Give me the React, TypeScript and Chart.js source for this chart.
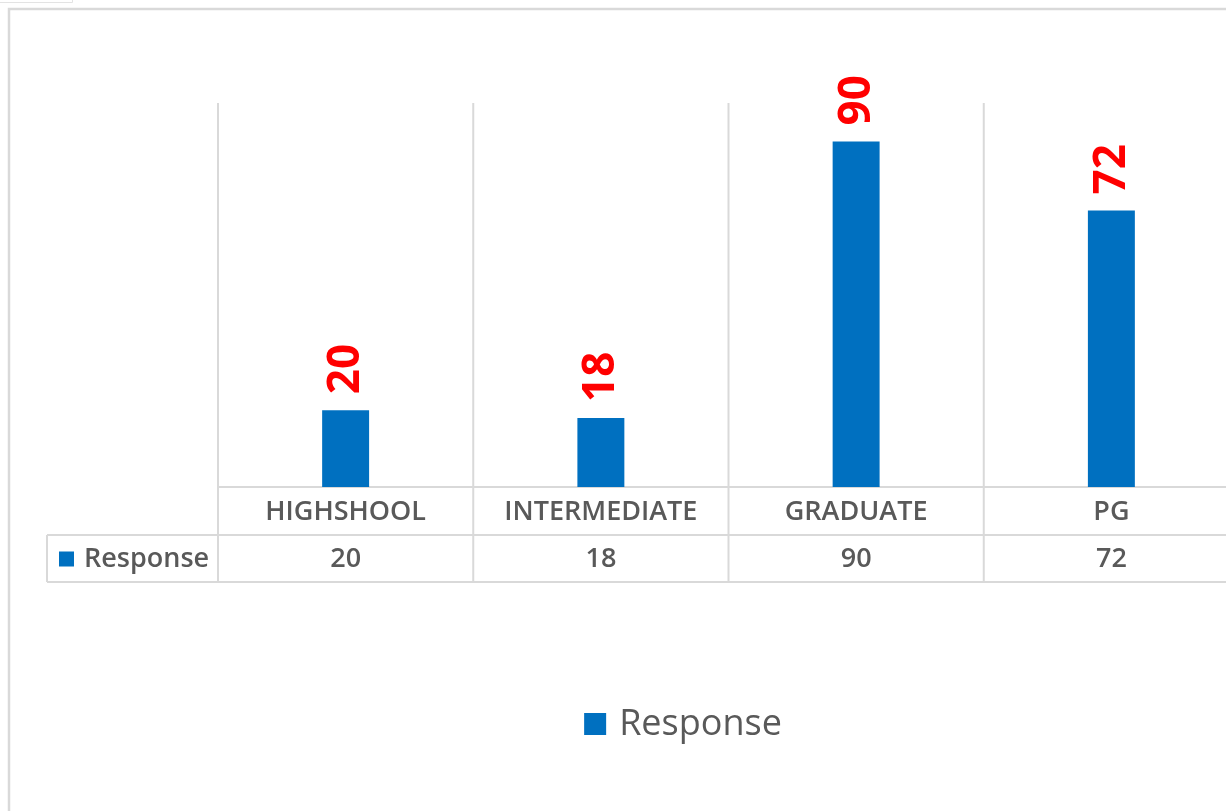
import { useEffect, useRef } from 'react';
import { Chart, registerables } from 'chart.js';

Chart.register(...registerables);

const categories = ['HIGHSHOOL', 'INTERMEDIATE', 'GRADUATE', 'PG'];
const responseValues = [20, 18, 90, 72];
const seriesName = 'Response';
const yMin = 0;
const yMax = 100;

const BLUE = '#0070C0';
const RED = '#FF0000';
const GRID = '#D9D9D9';
const TEXT = '#595959';
const FONT = '"Open Sans", "Noto Sans", sans-serif';

const tablePlugin = {
  id: 'excelTable',
  beforeDraw(chart: any) {
    const ctx = chart.ctx as CanvasRenderingContext2D;
    ctx.save();
    ctx.fillStyle = '#ffffff';
    ctx.fillRect(0, 0, chart.width, chart.height);
    // outer chart border
    ctx.strokeStyle = GRID;
    ctx.lineWidth = 2.5;
    ctx.strokeRect(9, 9, chart.width + 50, chart.height + 50);
    // small artifact at top-left
    ctx.strokeStyle = '#E3E3E3';
    ctx.lineWidth = 1;
    ctx.beginPath();
    ctx.moveTo(0, 2.5);
    ctx.lineTo(72.5, 2.5);
    ctx.lineTo(72.5, 0);
    ctx.stroke();
    ctx.restore();
  },
  beforeDatasetsDraw(chart: any) {
    const ctx = chart.ctx as CanvasRenderingContext2D;
    const area = chart.chartArea;
    const x = chart.scales.x;
    const n = categories.length;
    const headerBottom = area.bottom + 48;
    const tableBottom = area.bottom + 95;
    const rowLeft = 47;
    ctx.save();
    ctx.strokeStyle = GRID;
    ctx.lineWidth = 2;
    const bounds: number[] = [area.left];
    for (let i = 0; i < n - 1; i++) {
      bounds.push((x.getPixelForValue(i) + x.getPixelForValue(i + 1)) / 2);
    }
    bounds.push(area.right);
    ctx.beginPath();
    bounds.forEach((bx) => {
      ctx.moveTo(bx, area.top);
      ctx.lineTo(bx, tableBottom);
    });
    // horizontal lines
    ctx.moveTo(area.left, area.bottom);
    ctx.lineTo(area.right, area.bottom);
    ctx.moveTo(rowLeft, headerBottom);
    ctx.lineTo(area.right, headerBottom);
    ctx.moveTo(rowLeft, tableBottom);
    ctx.lineTo(area.right, tableBottom);
    ctx.moveTo(rowLeft, headerBottom);
    ctx.lineTo(rowLeft, tableBottom);
    ctx.stroke();
    ctx.restore();
  },
  afterDatasetsDraw(chart: any) {
    const ctx = chart.ctx as CanvasRenderingContext2D;
    const area = chart.chartArea;
    const x = chart.scales.x;
    const ds = chart.data.datasets[0];
    const meta = chart.getDatasetMeta(0);
    const headerBottom = area.bottom + 48;
    const tableBottom = area.bottom + 95;
    ctx.save();
    // data labels, rotated
    ctx.fillStyle = RED;
    ctx.font = `bold 44px ${FONT}`;
    ctx.textAlign = 'left';
    ctx.textBaseline = 'middle';
    meta.data.forEach((bar: any, i: number) => {
      ctx.save();
      ctx.translate(bar.x + 1, bar.y - 16);
      ctx.rotate(-Math.PI / 2);
      ctx.fillText(String(ds.data[i]), 0, 0);
      ctx.restore();
    });
    // table text
    ctx.fillStyle = TEXT;
    ctx.font = `600 27px ${FONT}`;
    ctx.textAlign = 'center';
    ctx.textBaseline = 'middle';
    categories.forEach((c, i) => {
      const cx = x.getPixelForValue(i);
      ctx.fillText(c, cx, (area.bottom + headerBottom) / 2 + 1);
      ctx.fillText(String(ds.data[i]), cx, (headerBottom + tableBottom) / 2 + 1);
    });
    // row header
    const rowMid = (headerBottom + tableBottom) / 2;
    ctx.fillStyle = ds.backgroundColor;
    ctx.fillRect(59, rowMid - 7, 15, 15);
    ctx.fillStyle = TEXT;
    ctx.textAlign = 'left';
    ctx.fillText(ds.label, 84, rowMid + 1);
    // legend
    ctx.font = `36px ${FONT}`;
    const tw = ctx.measureText(ds.label).width;
    const box = 22;
    const gap = 13;
    const total = box + gap + tw;
    const lx = chart.width / 2 - total / 2;
    const ly = 724;
    ctx.fillStyle = ds.backgroundColor;
    ctx.fillRect(lx, ly - box / 2, box, box);
    ctx.fillStyle = TEXT;
    ctx.textBaseline = 'middle';
    ctx.fillText(ds.label, lx + box + gap, ly + 1);
    ctx.restore();
  },
};

export default function App() {
  const ref = useRef<HTMLCanvasElement>(null);
  useEffect(() => {
    const chart = new Chart(ref.current!, {
      type: 'bar',
      data: {
        labels: categories,
        datasets: [
          {
            label: seriesName,
            data: responseValues,
            backgroundColor: BLUE,
            borderWidth: 0,
            barPercentage: 0.184,
            categoryPercentage: 1,
          },
        ],
      },
      options: {
        responsive: false,
        animation: false,
        devicePixelRatio: 1,
        layout: { padding: { left: 218, top: 103, right: 127, bottom: 324 } },
        scales: {
          x: { display: false },
          y: { display: false, min: yMin, max: yMax },
        },
        plugins: { legend: { display: false }, tooltip: { enabled: false } },
      },
      plugins: [tablePlugin],
    } as any);
    return () => chart.destroy();
  }, []);
  return (
    <div
      style={{
        position: 'fixed',
        left: 0,
        top: 0,
        width: 1226,
        height: 811,
        overflow: 'hidden',
        background: '#fff',
      }}
    >
      <canvas ref={ref} width={1366} height={811} style={{ display: 'block' }} />
    </div>
  );
}
